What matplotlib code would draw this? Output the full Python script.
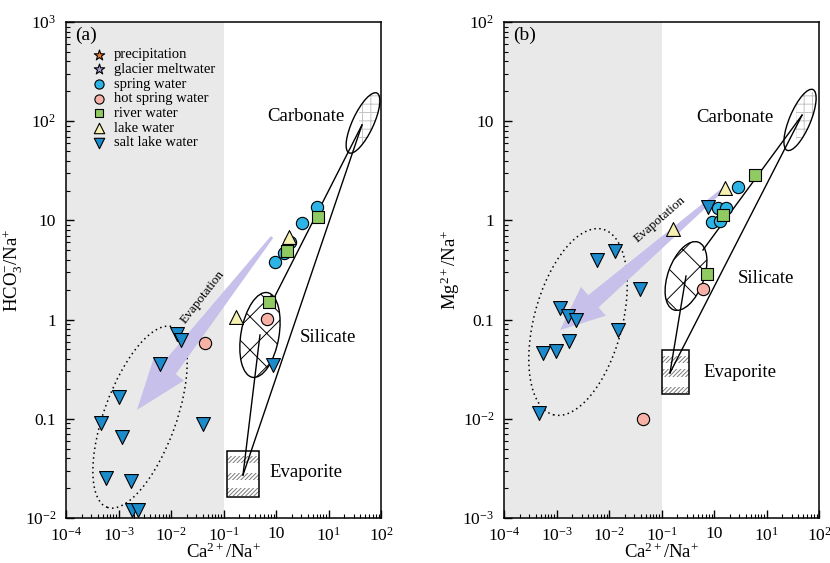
import numpy as np
import matplotlib
matplotlib.use("Agg")
import matplotlib.pyplot as plt
from matplotlib.patches import Ellipse, Rectangle, Polygon
from matplotlib.transforms import IdentityTransform
from matplotlib.ticker import FixedLocator, FixedFormatter, LogLocator, NullFormatter

plt.rcParams['font.family'] = ['Liberation Serif', 'DejaVu Serif']
plt.rcParams['mathtext.fontset'] = 'custom'
plt.rcParams['mathtext.rm'] = 'Liberation Serif'
plt.rcParams['mathtext.it'] = 'Liberation Serif:italic'
plt.rcParams['hatch.linewidth'] = 0.7

# === sample ratios, panel (a): HCO3/Na vs Ca/Na ===
a_spring_x = [6.0, 3.1, 1.85, 1.42, 0.96]
a_spring_y = [13.6, 9.4, 6.05, 4.7, 3.8]
a_hot_x = [0.67, 0.044]
a_hot_y = [1.01, 0.58]
a_river_x = [6.3, 1.62, 0.74]
a_river_y = [10.8, 4.9, 1.5]
a_lake_x = [1.77, 0.173]
a_lake_y = [6.8, 1.06]
a_salt_x = [0.0130, 0.0155, 0.0062, 0.88, 0.00102, 0.000465, 0.041, 0.00117,
            0.000578, 0.00173, 0.00181, 0.00235]
a_salt_y = [0.716, 0.62, 0.356, 0.35, 0.166, 0.0908, 0.0887, 0.0656,
            0.0253, 0.0236, 0.0120, 0.0120]

# === sample ratios, panel (b): Mg/Na vs Ca/Na ===
b_spring_x = [2.86, 1.19, 1.69, 0.92, 1.30]
b_spring_y = [2.17, 1.33, 1.33, 0.96, 0.99]
b_hot_x = [0.62, 0.0445]
b_hot_y = [0.203, 0.00995]
b_river_x = [6.04, 1.48, 0.74]
b_river_y = [2.87, 1.13, 0.288]
b_lake_x = [1.62, 0.166]
b_lake_y = [2.12, 0.82]
b_salt_x = [0.77, 0.0130, 0.0059, 0.039, 0.00117, 0.00166, 0.00235, 0.0148,
            0.00173, 0.00055, 0.00098, 0.000465]
b_salt_y = [1.36, 0.49, 0.40, 0.203, 0.131, 0.109, 0.099, 0.0785,
            0.0608, 0.046, 0.048, 0.0114]

# no precipitation / glacier samples plotted, legend only
precip_x, precip_y = [], []
glacier_x, glacier_y = [], []

# === end-member fields (Gaillardet-type mixing diagram) ===
a_evap_pt, a_sil_pt, a_sil_top, a_carb_pt = (0.235, 0.0271), (0.495, 0.70), (0.916, 1.65), (43.4, 91.6)
b_evap_pt, b_sil_pt, b_sil_top, b_carb_pt = (0.145, 0.029), (0.293, 0.275), (0.616, 0.503), (47.5, 11.5)
a_carb_center, b_carb_center = (45.4, 96.0), (43.5, 10.3)
a_evap_box = ((0.1167, 0.474), (0.0163, 0.0473))
b_evap_box = ((0.102, 0.334), (0.0178, 0.0494))
a_evap_bands = [(0.0425, 0.0358), (0.0284, 0.0241), (0.0200, 0.0167)]
b_evap_bands = [(0.0430, 0.0365), (0.0318, 0.0264), (0.0209, 0.0182)]
a_saltlake_center, b_saltlake_center = (0.00257, 0.104), (0.00257, 0.0946)
a_evap_arrow = ((0.84, 6.8), (0.00225, 0.123))
b_evap_arrow = ((1.77, 2.22), (0.00117, 0.0785))

x_ticks = [1e-4, 1e-3, 1e-2, 1e-1, 1, 10, 100]
x_ticklabels = [r'10$^{\mathregular{-4}}$', r'10$^{\mathregular{-3}}$', r'10$^{\mathregular{-2}}$',
                r'10$^{\mathregular{-1}}$', '10', r'10$^{\mathregular{1}}$', r'10$^{\mathregular{2}}$']
a_y_ticks = [1e-2, 1e-1, 1, 10, 100, 1000]
a_y_ticklabels = [r'10$^{\mathregular{-2}}$', '0.1', '1', '10', r'10$^{\mathregular{2}}$', r'10$^{\mathregular{3}}$']
b_y_ticks = [1e-3, 1e-2, 1e-1, 1, 10, 100]
b_y_ticklabels = [r'10$^{\mathregular{-3}}$', r'10$^{\mathregular{-2}}$', '0.1', '1', '10', r'10$^{\mathregular{2}}$']

C_SPRING = '#2db4e6'
C_HOT = '#f7b1a6'
C_RIVER = '#8fca62'
C_LAKE = '#f6f0b2'
C_SALT = '#1b8bcc'
C_PRECIP = '#ee7d2b'
C_GLACIER = '#a9a2d8'
C_ARROW = '#c6c0ea'


def setup_axes(ax, yticks, yticklabels, ylabel):
    ax.set_xscale('log')
    ax.set_yscale('log')
    ax.set_xlim(1e-4, 1e2)
    ax.set_ylim(yticks[0], yticks[-1])
    ax.axvspan(1e-4, 1e-1, color='#e9e9e9', lw=0, zorder=0)
    ax.xaxis.set_major_locator(FixedLocator(x_ticks))
    ax.xaxis.set_major_formatter(FixedFormatter(x_ticklabels))
    ax.yaxis.set_major_locator(FixedLocator(yticks))
    ax.yaxis.set_major_formatter(FixedFormatter(yticklabels))
    for axis in (ax.xaxis, ax.yaxis):
        axis.set_minor_locator(LogLocator(base=10, subs=np.arange(2, 10), numticks=100))
        axis.set_minor_formatter(NullFormatter())
    ax.tick_params(which='both', direction='in', top=False, right=False, labelsize=12.5)
    ax.tick_params(which='major', length=6, width=1)
    ax.tick_params(which='minor', length=3, width=0.8)
    ax.tick_params(axis='x', which='major', pad=6)
    ax.tick_params(axis='y', which='major', pad=7)
    for s in ax.spines.values():
        s.set_linewidth(1.1)
    ax.set_xlabel(r'Ca$^{\mathregular{2+}}$/Na$^{\mathregular{+}}$', fontsize=13.5, labelpad=-1)
    ax.set_ylabel(ylabel, fontsize=13.5, labelpad=0)


def disp(ax, pt):
    return np.array(ax.transData.transform(pt))


def add_ellipse(ax, center, w, h, angle, **kw):
    e = Ellipse(disp(ax, center), w, h, angle=angle, transform=IdentityTransform(), **kw)
    ax.add_patch(e)
    return e


def add_arrow(ax, tail, tip, head_len, head_w, w_tail, w_shaft):
    t, p = disp(ax, tail), disp(ax, tip)
    d = (p - t) / np.linalg.norm(p - t)
    n = np.array([-d[1], d[0]])
    b = p - d * head_len
    pts = [t + n * w_tail / 2, b + n * w_shaft / 2, b + n * head_w / 2, p,
           b - n * head_w / 2, b - n * w_shaft / 2, t - n * w_tail / 2]
    ax.add_patch(Polygon(pts, closed=True, transform=IdentityTransform(),
                         fc=C_ARROW, ec='none', zorder=2))


def draw_fields(ax, evap_pt, sil_pt, sil_top, carb_pt, carb_center, carb_ang,
                sil_ang, sil_wh, box, bands, salt_center, salt_wh, salt_ang):
    # carbonate field with faint brick pattern
    carb = add_ellipse(ax, carb_center, 21, 66, carb_ang, fc='none', ec='black', lw=1.0, zorder=4)
    c = disp(ax, carb_center)
    brick = Rectangle((c[0] - 4, c[1] - 20), 30, 48, transform=IdentityTransform(),
                      fc='none', ec='#c4c4c4', lw=0, hatch='++', zorder=3)
    ax.add_patch(brick)
    brick.set_clip_path(carb)
    # silicate field
    add_ellipse(ax, sil_pt, sil_wh[0], sil_wh[1], sil_ang, fc='white', ec='black',
                lw=1.0, hatch='x', zorder=3)
    # evaporite box with hatched bands
    (x0, x1), (y0, y1) = box
    for top, bot in bands:
        ax.add_patch(Rectangle((x0, bot), x1 - x0, top - bot, fc='white', ec='#7a7a7a',
                               lw=0, hatch='////////', zorder=3))
    ax.add_patch(Rectangle((x0, y0), x1 - x0, y1 - y0, fc='none', ec='black', lw=1.1, zorder=4))
    # mixing lines
    for p0, p1 in [(evap_pt, sil_pt), (evap_pt, carb_pt), (sil_top, carb_pt)]:
        ax.plot([p0[0], p1[0]], [p0[1], p1[1]], color='black', lw=1.0, zorder=4)
    # salt lake cluster
    add_ellipse(ax, salt_center, salt_wh[0], salt_wh[1], salt_ang, fc='none', ec='black',
                lw=1.1, ls=(0, (1, 2.2)), zorder=2)


def draw_samples(ax, salt, spring, hot, river, lake):
    kw = dict(edgecolors='black', linewidths=0.8, zorder=5, clip_on=False)
    h = {}
    h['precipitation'] = ax.scatter(precip_x, precip_y, marker='*', s=110, c=C_PRECIP, **kw)
    h['glacier meltwater'] = ax.scatter(glacier_x, glacier_y, marker='*', s=110, c=C_GLACIER, **kw)
    h['salt lake water'] = ax.scatter(*salt, marker='v', s=100, c=C_SALT, **kw)
    h['spring water'] = ax.scatter(*spring, marker='o', s=78, c=C_SPRING, **kw)
    h['hot spring water'] = ax.scatter(*hot, marker='o', s=78, c=C_HOT, **kw)
    h['river water'] = ax.scatter(*river, marker='s', s=64, c=C_RIVER, **kw)
    h['lake water'] = ax.scatter(*lake, marker='^', s=100, c=C_LAKE, **kw)
    return h


fig = plt.figure(figsize=(8.3, 5.63), dpi=100)
ax_a = fig.add_axes([66 / 830, 45 / 563, 315 / 830, 496 / 563])
ax_b = fig.add_axes([504 / 830, 45 / 563, 315 / 830, 496 / 563])

setup_axes(ax_a, a_y_ticks, a_y_ticklabels, r'HCO$_{\mathregular{3}}^{\mathregular{-}}$/Na$^{\mathregular{+}}$')
setup_axes(ax_b, b_y_ticks, b_y_ticklabels, r'Mg$^{\mathregular{2+}}$/Na$^{\mathregular{+}}$')

# panel (a)
draw_fields(ax_a, a_evap_pt, a_sil_pt, a_sil_top, a_carb_pt, a_carb_center, -25,
            -10, (38, 86), a_evap_box, a_evap_bands, a_saltlake_center, (72, 192), -20)
add_arrow(ax_a, *a_evap_arrow, head_len=52, head_w=38, w_tail=3, w_shaft=17)
handles = draw_samples(ax_a, (a_salt_x, a_salt_y), (a_spring_x, a_spring_y), (a_hot_x, a_hot_y),
                       (a_river_x, a_river_y), (a_lake_x, a_lake_y))

# panel (b)
draw_fields(ax_b, b_evap_pt, b_sil_pt, b_sil_top, b_carb_pt, b_carb_center, -23,
            -20, (36, 72), b_evap_box, b_evap_bands, b_saltlake_center, (88, 192), -15)
add_arrow(ax_b, *b_evap_arrow, head_len=44, head_w=38, w_tail=3, w_shaft=16)
draw_samples(ax_b, (b_salt_x, b_salt_y), (b_spring_x, b_spring_y), (b_hot_x, b_hot_y),
             (b_river_x, b_river_y), (b_lake_x, b_lake_y))

for ax, tag, pos in [(ax_a, '(a)', {'Carbonate': (0.762, 0.810), 'Silicate': (0.832, 0.363),
                                    'Evaporite': (0.762, 0.091), 'evap': (0.435, 0.446, 52)}),
                     (ax_b, '(b)', {'Carbonate': (0.733, 0.808), 'Silicate': (0.832, 0.482),
                                    'Evaporite': (0.749, 0.294), 'evap': (0.495, 0.601, 41)})]:
    ax.text(0.03, 0.974, tag, transform=ax.transAxes, fontsize=14, va='center', ha='left')
    for name in ['Carbonate', 'Silicate', 'Evaporite']:
        ax.text(*pos[name], name, transform=ax.transAxes, fontsize=13.5, ha='center',
                va='center', zorder=6)
    ex, ey, rot = pos['evap']
    ax.text(ex, ey, 'Evapotation', transform=ax.transAxes, fontsize=9.5, ha='center',
            va='center', rotation=rot, zorder=6)

order = ['precipitation', 'glacier meltwater', 'spring water', 'hot spring water',
         'river water', 'lake water', 'salt lake water']
ax_a.legend([handles[k] for k in order], order, loc='upper left', bbox_to_anchor=(0.06, 0.962),
            frameon=False, fontsize=10.5, handlelength=1.0, handletextpad=0.5,
            labelspacing=0.1, borderpad=0, markerscale=0.75)

fig.savefig('out.png', dpi=100)
